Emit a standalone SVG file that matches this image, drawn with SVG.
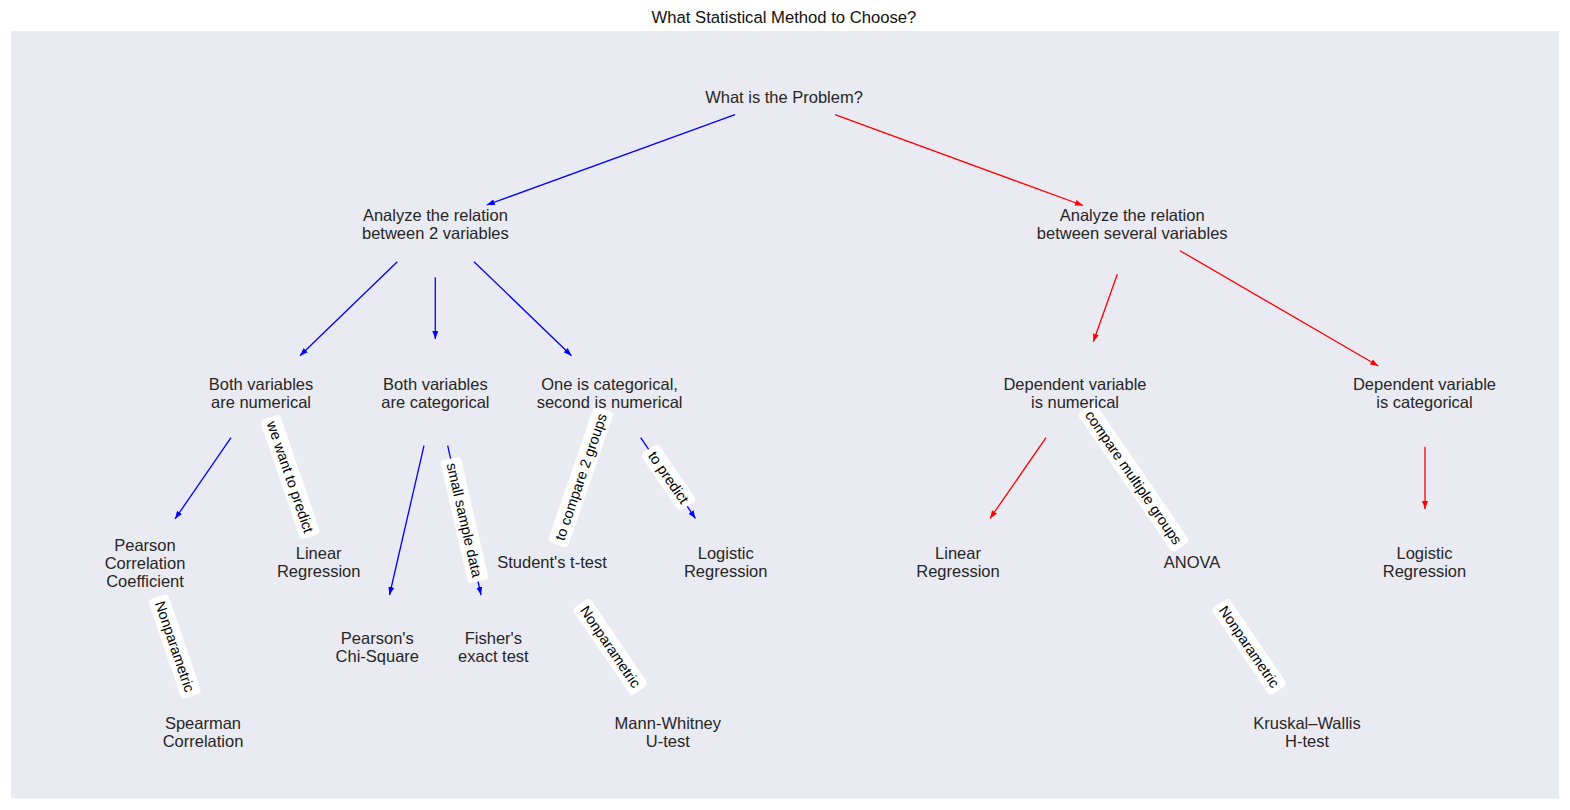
<svg xmlns="http://www.w3.org/2000/svg" width="1570" height="810" viewBox="0 0 1570 810">
<defs>
<marker id="ab" viewBox="0 0 8 6" refX="8" refY="3" markerWidth="8" markerHeight="6" markerUnits="userSpaceOnUse" orient="auto"><path d="M0,0 L8,3 L0,6 Z" fill="#0000ff"/></marker>
<marker id="ar" viewBox="0 0 8 6" refX="8" refY="3" markerWidth="8" markerHeight="6" markerUnits="userSpaceOnUse" orient="auto"><path d="M0,0 L8,3 L0,6 Z" fill="#ff0000"/></marker>
</defs>
<style>
.n{font-family:"Liberation Sans",Arial,sans-serif;font-size:16.5px;fill:#262626;text-anchor:middle}
.t{font-family:"Liberation Sans",Arial,sans-serif;font-size:16.67px;fill:#111;text-anchor:middle}
.b{stroke:#0000ff;stroke-width:1.3;fill:none;marker-end:url(#ab)}
.r{stroke:#ff0000;stroke-width:1.3;fill:none;marker-end:url(#ar)}
.lb{fill:#fff}
.lt{font-family:"Liberation Sans",Arial,sans-serif;font-size:14.5px;fill:#000;text-anchor:middle}
</style>
<rect width="1570" height="810" fill="#ffffff"/>
<rect x="11" y="31" width="1548" height="767.5" fill="#eaeaf2"/>
<text class="t" x="784" y="23">What Statistical Method to Choose?</text>

<g id="connectors">
<line class="b" x1="735" y1="114.7" x2="486.7" y2="205"/>
<line class="r" x1="835" y1="114.7" x2="1083" y2="205.5"/>
<line class="b" x1="397.3" y1="261.7" x2="300" y2="355.7"/>
<line class="b" x1="435.3" y1="277.3" x2="435.3" y2="339"/>
<line class="b" x1="474" y1="261.7" x2="571.5" y2="355.7"/>
<line class="r" x1="1117.3" y1="274.3" x2="1093.3" y2="341.7"/>
<line class="r" x1="1180" y1="250.7" x2="1378.3" y2="366"/>
<line class="b" x1="231" y1="437.7" x2="175" y2="519"/>
<line class="b" x1="424" y1="445.7" x2="389.5" y2="595"/>
<line class="b" x1="447.7" y1="445.7" x2="481" y2="595"/>
<line class="b" x1="640.7" y1="437.7" x2="695.5" y2="518.5"/>
<line class="r" x1="1046" y1="437.7" x2="990" y2="518.5"/>
<line class="r" x1="1425" y1="446.7" x2="1425" y2="509"/>

<g transform="translate(290.2,477) rotate(71.1)"><rect class="lb" x="-63" y="-10.5" width="126" height="21" rx="4"/><text class="lt" x="0" y="5">we want to predict</text></g>
<g transform="translate(174.8,646.5) rotate(71.1)"><rect class="lb" x="-52.5" y="-10.5" width="105" height="21" rx="4"/><text class="lt" x="0" y="5">Nonparametric</text></g>
<g transform="translate(464.4,520) rotate(77.1)"><rect class="lb" x="-63" y="-10.5" width="126" height="21" rx="4"/><text class="lt" x="0" y="5">small sample data</text></g>
<g transform="translate(580.8,477) rotate(-71)"><rect class="lb" x="-71.5" y="-10.5" width="143" height="21" rx="4"/><text class="lt" x="0" y="5">to compare 2 groups</text></g>
<g transform="translate(668.5,477.5) rotate(55.5)"><rect class="lb" x="-34.5" y="-10.5" width="69" height="21" rx="4"/><text class="lt" x="0" y="5">to predict</text></g>
<g transform="translate(1133.5,477.5) rotate(55.5)"><rect class="lb" x="-84" y="-10.5" width="168" height="21" rx="4"/><text class="lt" x="0" y="5">compare multiple groups</text></g>
<g transform="translate(610.3,646.8) rotate(55.7)"><rect class="lb" x="-52.5" y="-10.5" width="105" height="21" rx="4"/><text class="lt" x="0" y="5">Nonparametric</text></g>
<g transform="translate(1249.2,646.8) rotate(55.7)"><rect class="lb" x="-52.5" y="-10.5" width="105" height="21" rx="4"/><text class="lt" x="0" y="5">Nonparametric</text></g>
</g>

<g id="root"><text class="n" x="784" y="102.5">What is the Problem?</text></g>
<g id="analyze2"><text class="n" x="435.4" y="220.5">Analyze the relation</text><text class="n" x="435.4" y="238.5">between 2 variables</text></g>
<g id="analyzeSeveral"><text class="n" x="1132.2" y="220.5">Analyze the relation</text><text class="n" x="1132.2" y="238.5">between several variables</text></g>
<g id="bothNum"><text class="n" x="261" y="389.5">Both variables</text><text class="n" x="261" y="407.5">are numerical</text></g>
<g id="bothCat"><text class="n" x="435.4" y="389.5">Both variables</text><text class="n" x="435.4" y="407.5">are categorical</text></g>
<g id="oneCat"><text class="n" x="609.6" y="389.5">One is categorical,</text><text class="n" x="609.6" y="407.5">second is numerical</text></g>
<g id="depNum"><text class="n" x="1075" y="389.5">Dependent variable</text><text class="n" x="1075" y="407.5">is numerical</text></g>
<g id="depCat"><text class="n" x="1424.5" y="389.5">Dependent variable</text><text class="n" x="1424.5" y="407.5">is categorical</text></g>
<g id="pearson"><text class="n" x="145" y="550.5">Pearson</text><text class="n" x="145" y="568.5">Correlation</text><text class="n" x="145" y="586.5">Coefficient</text></g>
<g id="linReg1"><text class="n" x="318.7" y="559">Linear</text><text class="n" x="318.7" y="577">Regression</text></g>
<g id="student"><text class="n" x="552" y="567.5">Student's t-test</text></g>
<g id="logReg1"><text class="n" x="725.7" y="559">Logistic</text><text class="n" x="725.7" y="577">Regression</text></g>
<g id="linReg2"><text class="n" x="958" y="559">Linear</text><text class="n" x="958" y="577">Regression</text></g>
<g id="anova"><text class="n" x="1192" y="567.5">ANOVA</text></g>
<g id="logReg2"><text class="n" x="1424.5" y="559">Logistic</text><text class="n" x="1424.5" y="577">Regression</text></g>
<g id="chiSquare"><text class="n" x="377.3" y="643.5">Pearson's</text><text class="n" x="377.3" y="661.5">Chi-Square</text></g>
<g id="fisher"><text class="n" x="493.4" y="643.5">Fisher's</text><text class="n" x="493.4" y="661.5">exact test</text></g>
<g id="spearman"><text class="n" x="203" y="728.5">Spearman</text><text class="n" x="203" y="746.5">Correlation</text></g>
<g id="mannWhitney"><text class="n" x="667.8" y="728.5">Mann-Whitney</text><text class="n" x="667.8" y="746.5">U-test</text></g>
<g id="kruskal"><text class="n" x="1307" y="728.5">Kruskal–Wallis</text><text class="n" x="1307" y="746.5">H-test</text></g>
</svg>
